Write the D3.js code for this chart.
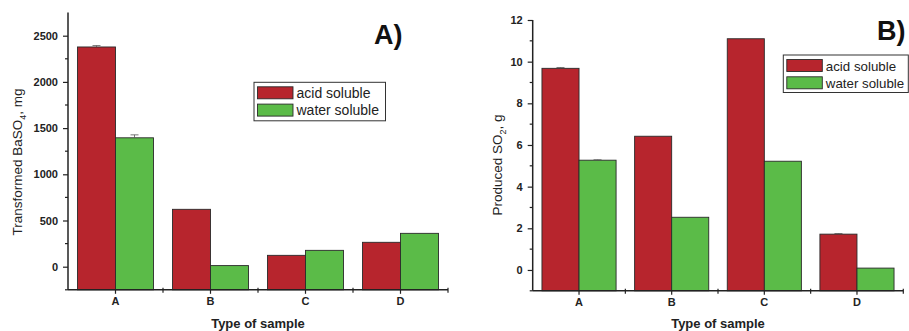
<!DOCTYPE html>
<html>
<head>
<meta charset="utf-8">
<script src="https://cdn.jsdelivr.net/npm/d3@7"></script>
<style>
  html, body { margin: 0; padding: 0; background: #fff; }
  svg { display: block; font-family: "Liberation Sans", Arial, sans-serif; }
</style>
</head>
<body>
<svg id="chart" width="909" height="331"></svg>
<script>
// ---------- data ----------
const categories = ["A", "B", "C", "D"];
const seriesNames = ["acid soluble", "water soluble"];
const seriesColors = ["#B7252D", "#5BBB48"];

// Panel A: Transformed BaSO4, mg
const baso4Acid = [2378, 621, 123, 264];
const baso4Water = [1395, 12, 177, 361];
const baso4AcidErr = [15, 0, 0, 0];
const baso4WaterErr = [32, 0, 0, 0];
const baso4Ticks = [0, 500, 1000, 1500, 2000, 2500];

// Panel B: Produced SO2, g
const so2Acid = [9.68, 6.42, 11.1, 1.72];
const so2Water = [5.27, 2.53, 5.22, 0.09];
const so2AcidErr = [0.04, 0, 0, 0.03];
const so2WaterErr = [0.02, 0, 0, 0];
const so2Ticks = [0, 2, 4, 6, 8, 10, 12];

const svg = d3.select("#chart");

function panel(cfg) {
  const g = svg.append("g");
  const x = d3.scaleBand().domain(categories).range([cfg.x0, cfg.x1]).padding(0);
  const bw = x.bandwidth();
  const xs = d3.scaleBand().domain(seriesNames).range([bw * 0.1, bw * 0.9]).padding(0);
  const y = d3.scaleLinear().domain(cfg.ydomain).range([cfg.yb, cfg.yt]);

  const rows = categories.map((c, i) => ({
    c, vals: [cfg.acid[i], cfg.water[i]], errs: [cfg.acidErr[i], cfg.waterErr[i]]
  }));

  // bars
  rows.forEach(r => {
    r.vals.forEach((v, k) => {
      const bx = x(r.c) + xs(seriesNames[k]);
      g.append("rect")
        .attr("x", bx).attr("width", xs.bandwidth())
        .attr("y", y(v)).attr("height", y(cfg.ydomain[0]) - y(v))
        .attr("fill", seriesColors[k])
        .attr("stroke", "#2a2a2a").attr("stroke-width", 0.9);
      if (r.errs[k] > 0) {
        const cx = bx + xs.bandwidth() / 2;
        g.append("line").attr("x1", cx).attr("x2", cx)
          .attr("y1", y(v)).attr("y2", y(v + r.errs[k]))
          .attr("stroke", "#555").attr("stroke-width", 0.8);
        g.append("line").attr("x1", cx - 4).attr("x2", cx + 4)
          .attr("y1", y(v + r.errs[k])).attr("y2", y(v + r.errs[k]))
          .attr("stroke", "#555").attr("stroke-width", 0.8);
      }
    });
  });

  // y axis
  const yAxis = d3.axisLeft(y).tickValues(cfg.ticks).tickSize(5).tickPadding(5)
    .tickFormat(d3.format("d"));
  const ya = g.append("g").attr("transform", `translate(${cfg.x0},0)`).call(yAxis);
  ya.select(".domain").remove();
  ya.selectAll(".tick line").attr("stroke", "#222").attr("stroke-width", 1.2);
  ya.selectAll(".tick text").attr("font-size", 11).attr("font-weight", "bold")
    .attr("fill", "#222");
  // minor y ticks
  const minorY = cfg.ticks.slice(0, -1).map((t, i) => (t + cfg.ticks[i + 1]) / 2)
    .concat([cfg.ticks[0] - (cfg.ticks[1] - cfg.ticks[0]) / 2]);
  minorY.forEach(t => {
    if (t >= cfg.ydomain[0] && t <= cfg.ydomain[1]) {
      g.append("line").attr("x1", cfg.x0 - 3).attr("x2", cfg.x0)
        .attr("y1", y(t)).attr("y2", y(t)).attr("stroke", "#222").attr("stroke-width", 1.2);
    }
  });
  g.append("line").attr("x1", cfg.x0).attr("x2", cfg.x0)
    .attr("y1", y(cfg.ydomain[0])).attr("y2", y(cfg.ydomain[1]))
    .attr("stroke", "#222").attr("stroke-width", 1.5);

  // x axis
  const xAxis = d3.axisBottom(x).tickSize(4).tickPadding(3);
  const xa = g.append("g").attr("transform", `translate(0,${y(cfg.ydomain[0])})`).call(xAxis);
  xa.select(".domain").remove();
  xa.selectAll(".tick line").attr("stroke", "#222").attr("stroke-width", 1.2);
  xa.selectAll(".tick text").attr("font-size", 11).attr("font-weight", "bold")
    .attr("fill", "#222");
  categories.slice(1).forEach(c => {
    g.append("line").attr("x1", x(c)).attr("x2", x(c))
      .attr("y1", y(cfg.ydomain[0]) - 2).attr("y2", y(cfg.ydomain[0]) + 3)
      .attr("stroke", "#222").attr("stroke-width", 1.2);
  });
  g.append("line").attr("x1", cfg.x1).attr("x2", cfg.x1)
    .attr("y1", y(cfg.ydomain[0]) - 2).attr("y2", y(cfg.ydomain[0]) + 3)
    .attr("stroke", "#222").attr("stroke-width", 1.2);
  g.append("line").attr("x1", cfg.x0).attr("x2", cfg.x1)
    .attr("y1", y(cfg.ydomain[0])).attr("y2", y(cfg.ydomain[0]))
    .attr("stroke", "#222").attr("stroke-width", 1.5);

  // x label
  g.append("text").attr("x", (cfg.x0 + cfg.x1) / 2).attr("y", 327.5)
    .attr("text-anchor", "middle").attr("font-size", 13).attr("font-weight", "bold")
    .attr("fill", "#222").text("Type of sample");

  // y label
  const yl = g.append("text")
    .attr("transform", `translate(${cfg.ylx},${cfg.yly}) rotate(-90)`)
    .attr("text-anchor", "middle").attr("font-size", 13.5).attr("fill", "#222");
  yl.append("tspan").text(cfg.ylabel[0]);
  yl.append("tspan").attr("font-size", 9).attr("dy", 4).text(cfg.ylabel[1]);
  yl.append("tspan").attr("dy", -4).text(cfg.ylabel[2]);

  // panel label
  g.append("text").attr("x", cfg.plx).attr("y", cfg.ply).attr("font-size", 27)
    .attr("font-weight", "bold").attr("fill", "#111").text(cfg.plabel);

  // legend
  const L = cfg.legend;
  g.append("rect").attr("x", L.x).attr("y", L.y).attr("width", L.w).attr("height", L.h)
    .attr("fill", "#fff").attr("stroke", "#333").attr("stroke-width", 1);
  seriesNames.forEach((s, k) => {
    g.append("rect").attr("x", L.x + 3.5).attr("y", L.y + 4.5 + k * 17.3)
      .attr("width", 35.5).attr("height", 12)
      .attr("fill", seriesColors[k]).attr("stroke", "#2a2a2a").attr("stroke-width", 0.9);
    g.append("text").attr("x", L.x + 42.5).attr("y", L.y + 15.5 + k * 17.3)
      .attr("font-size", L.fs).attr("fill", "#222").text(s);
  });
}

panel({
  x0: 68, x1: 448, yt: 12.6, yb: 289.8, ydomain: [-250, 2750],
  acid: baso4Acid, water: baso4Water, acidErr: baso4AcidErr, waterErr: baso4WaterErr,
  ticks: baso4Ticks,
  ylabel: ["Transformed BaSO", "4", ", mg"], ylx: 21.5, yly: 162,
  plabel: "A)", plx: 374, ply: 43.5,
  legend: { x: 254, y: 82.3, w: 131.5, h: 38.5, fs: 14 }
});

panel({
  x0: 532.7, x1: 903.3, yt: 20, yb: 290.8, ydomain: [-1, 12],
  acid: so2Acid, water: so2Water, acidErr: so2AcidErr, waterErr: so2WaterErr,
  ticks: so2Ticks,
  ylabel: ["Produced SO", "2", ", g"], ylx: 502, yly: 165,
  plabel: "B)", plx: 877, ply: 40,
  legend: { x: 783.3, y: 55, w: 125, h: 37.5, fs: 13.3 }
});
</script>
</body>
</html>
